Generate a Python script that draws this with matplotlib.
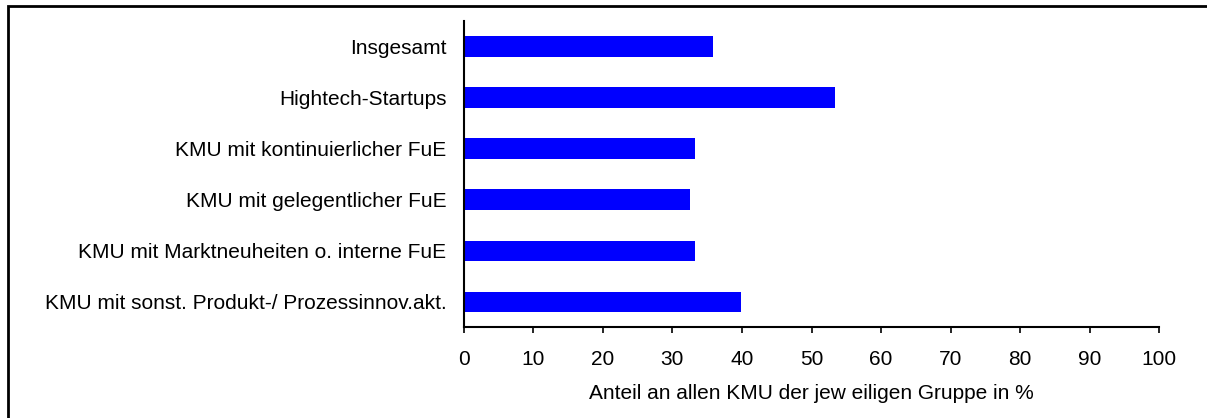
import matplotlib.pyplot as plt
from matplotlib.patches import Rectangle

categories = [
    "Insgesamt",
    "Hightech-Startups",
    "KMU mit kontinuierlicher FuE",
    "KMU mit gelegentlicher FuE",
    "KMU mit Marktneuheiten o. interne FuE",
    "KMU mit sonst. Produkt-/ Prozessinnov.akt.",
]
values = [35.9, 53.4, 33.2, 32.6, 33.2, 39.9]
xticks = [0, 10, 20, 30, 40, 50, 60, 70, 80, 90, 100]

plt.rcParams['font.family'] = ['Liberation Sans', 'DejaVu Sans']
fs = 15

fig = plt.figure(figsize=(12.07, 4.18), dpi=100)
ax = fig.add_axes([0.3842, 0.2170, 0.5763, 0.7328])

ypos = list(range(len(categories)))
ax.barh(ypos, values, height=0.4, color="#0000FF")
ax.set_ylim(len(categories) - 0.5, -0.5)
ax.set_xlim(0, 100)
ax.set_yticks(ypos)
ax.set_yticklabels(categories, fontsize=fs)
ax.set_xticks(xticks)
ax.set_xticklabels([str(t) for t in xticks], fontsize=fs)
ax.tick_params(axis="y", length=0, pad=12.5)
ax.tick_params(axis="x", direction="out", length=4, width=1.2, pad=12.5)
ax.set_xlabel("Anteil an allen KMU der jew eiligen Gruppe in %", fontsize=fs, labelpad=11)

for s in ["top", "right"]:
    ax.spines[s].set_visible(False)
ax.spines["left"].set_linewidth(1.5)
ax.spines["bottom"].set_linewidth(1.5)

# frame around the whole chart
fig.patches.append(Rectangle((8 / 1207, -0.05), 1.2, 1 - 6 / 418 + 0.05,
                             transform=fig.transFigure, fill=False,
                             edgecolor="black", linewidth=2))

fig.savefig("out.png", dpi=100)
